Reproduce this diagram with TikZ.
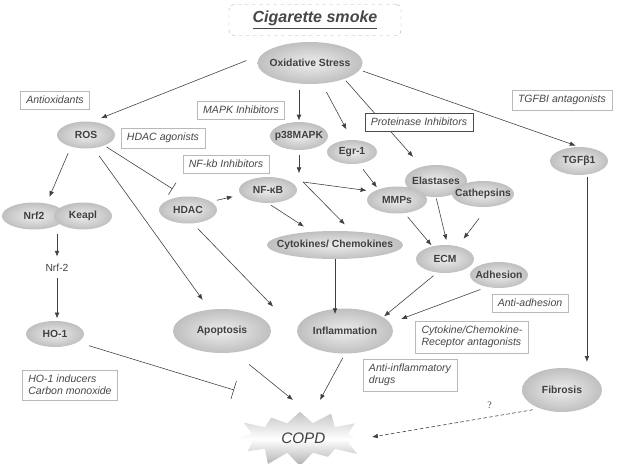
\documentclass[tikz,border=0pt]{standalone}
\usepackage{fontspec}
\setmainfont{Liberation Sans}
\newfontfamily\qfont{Liberation Serif}
\usetikzlibrary{shapes.geometric,shapes.symbols,arrows.meta,calc}

\newcommand{\etext}[1]{\makebox[0pt]{#1}}
\tikzset{
  ell/.style={ellipse, inner sep=0pt, shading=radial, inner color=gray!14, outer color=gray!50,
    text=black!75, font=\fontsize{8.8}{10}\selectfont\bfseries},
  sz/.style 2 args={minimum width=#1*0.3mm, minimum height=#2*0.3mm},
  drug/.style={draw=gray!55, fill=white, line width=0.5pt, inner xsep=5pt, inner ysep=4.3pt,
    text=black!72, font=\fontsize{9}{10.5}\selectfont\itshape, align=left},
  act/.style={-{Latex[length=5pt,width=4pt]}},
  inhib/.style={-{Bar[width=#1]}},
}

\begin{document}
\begin{tikzpicture}[x=0.3mm, y=-0.3mm, every edge/.style={draw, black!75, line width=0.5pt}]
        \useasboundingbox (0,0) rectangle (622,463);

        \node[draw=gray!60, dashed, rounded corners=4pt, minimum width=51.6mm, minimum height=9.3mm,
          text=black!72, font=\fontsize{13.7}{15}\selectfont\bfseries\itshape] (smoke) at (315,20) {\underline{Cigarette smoke}};

        \node[ell, sz={105}{42}] (ox) at (310,63) {\etext{Oxidative Stress}};
        \node[ell, sz={58}{27}] (ros) at (86,135) {\etext{ROS}};
        \node[ell, sz={58}{28}] (p38) at (299,136) {\etext{p38MAPK}};
        \node[ell, sz={50}{24}] (egr) at (352,152) {\etext{Egr-1}};
        \node[ell, sz={58}{28}] (tgf) at (579,161) {\etext{TGFβ1}};
        \node[ell, sz={58}{26}] (nfkb) at (268,190) {\etext{NF-κB}};
        \node[ell, sz={58}{27}] (hdac) at (188,210) {\etext{HDAC}};
        \node[ell, sz={64}{27}] (nrf2) at (34,216) {\etext{Nrf2}};
        \node[ell, sz={58}{27}] (keapl) at (83,216) {\etext{Keapl}};
        \node[text=black!75, font=\fontsize{8.8}{10}\selectfont] (nrf2txt) at (57,268) {Nrf-2};
        \node[ell, sz={58}{26}] (ho1) at (55,334) {\etext{HO-1}};
        \node[ell, sz={62}{32}] (ela) at (436,181) {\etext{Elastases}};
        \node[ell, sz={60}{27}] (mmps) at (397,200) {\etext{MMPs}};
        \node[ell, sz={62}{26}] (cath) at (483,194) {\etext{Cathepsins}};
        \node[ell, sz={136}{28}] (cyto) at (335,245) {\etext{Cytokines/ Chemokines}};
        \node[ell, sz={58}{28}] (ecm) at (445,259) {\etext{ECM}};
        \node[ell, sz={58}{26}] (adh) at (499,275) {\etext{Adhesion}};
        \node[ell, sz={98}{44}] (apop) at (222,331) {\etext{Apoptosis}};
        \node[ell, sz={96}{45}] (infl) at (345,331) {\etext{Inflammation}};
        \node[ell, sz={80}{44}] (fib) at (562,390) {\etext{Fibrosis}};
        \node[starburst, starburst points=12, starburst point height=5.4mm, random starburst=61,
          minimum width=40.5mm, minimum height=20mm, top color=gray!45, bottom color=gray!62,
          middle color=white, text=black!75, font=\fontsize{13}{15}\selectfont\itshape] (copd) at (300,438) {\hspace{2mm}COPD};
        \coordinate (fork) at (303,182);

        \path[act]
        (ox.170) edge[shorten <=14pt, shorten >=8pt] (ros.65)
        (p38.north |- ox.south) edge[shorten <=5pt, shorten >=1pt] (p38.north)
        (ox.300) edge[shorten <=8pt, shorten >=10pt] (egr.north)
        (ox.335) edge[shorten <=2pt, shorten >=11pt] (ela.135)
        (ox.352) edge[shorten <=3pt, shorten >=3pt] (tgf.north)
        (p38.south) edge[shorten <=4pt, shorten >=3pt] (p38.south |- nfkb.north)
        (fork) edge[shorten >=6pt] (mmps.160)
        (fork) edge[shorten >=8pt] (cyto.40)
        (egr.300) edge[shorten <=6pt, shorten >=2pt] (mmps.150)
        (nfkb.south) edge[shorten <=3pt, shorten >=8pt] (cyto.150)
        (hdac.20) edge[shorten <=5pt, shorten >=7pt] (nfkb.190)
        (ros.218) edge[shorten <=6pt, shorten >=6pt] (nrf2.45)
        (ros.330) edge[inhib=12pt, shorten <=2pt, shorten >=12pt] (hdac.105)
        (ros.300) edge[shorten <=8pt, shorten >=10pt] (apop.120)
        (nrf2txt.north |- nrf2.south) edge[shorten <=4pt, shorten >=3pt] (nrf2txt.north)
        (nrf2txt.south) edge[shorten <=2pt, shorten >=2pt] (nrf2txt.south |- ho1.north)
        (hdac.290) edge[shorten <=6pt, shorten >=29pt] (infl.west)
        (cyto.south) edge[shorten >=-5pt] (cyto.south |- infl.north)
        (ecm.240) edge[shorten <=4pt, shorten >=1pt] (infl.20)
        (adh.225) edge[shorten <=6pt, shorten >=10pt] (infl.10)
        (mmps.300) edge[shorten <=4pt, shorten >=1pt] (ecm.135)
        (ela.south) edge[shorten <=1pt, shorten >=4pt] (ecm.80)
        (cath.290) edge[shorten <=12pt, shorten >=8pt] (ecm.45)
        (tgf.300) edge[shorten <=2pt, shorten >=5pt] (tgf.300 |- fib.north)
        (ho1.340) edge[inhib=16pt, shorten <=10pt] ($(copd)+(-66,-48)$)
        (apop.300) edge[shorten <=16pt] ($(copd)+(-7,-38)$)
        (infl.south) edge[shorten <=4pt] ($(copd)+(20,-38)$)
        (fib.220) edge[dashed, dash pattern=on 3pt off 2pt, shorten <=6pt]
          node[pos=.3, above=4pt, text=black!70, font=\qfont\fontsize{8.5}{10}\selectfont] (qmark) {?} ($(copd)+(72,-1)$);

        \node[drug] (antiox) at (55,100) {Antioxidants};
        \node[drug] (hdacag) at (163,138) {HDAC agonists};
        \node[drug] (mapki) at (241,110) {MAPK Inhibitors};
        \node[drug] (nfkbi) at (226,164) {NF-kb Inhibitors};
        \node[drug, draw=black!70] (proti) at (419,122) {Proteinase Inhibitors};
        \node[drug] (tgfant) at (562,100) {TGFBI antagonists};
        \node[drug] (antiadh) at (530,303) {Anti-adhesion};
        \node[drug] (ccra) at (472,337) {Cytokine/Chemokine-\\Receptor antagonists};
        \node[drug] (antiinf) at (410,375) {Anti-inflammatory\\drugs};
        \node[drug] (ho1ind) at (70,385) {HO-1 inducers\\Carbon monoxide};
\end{tikzpicture}
\end{document}
